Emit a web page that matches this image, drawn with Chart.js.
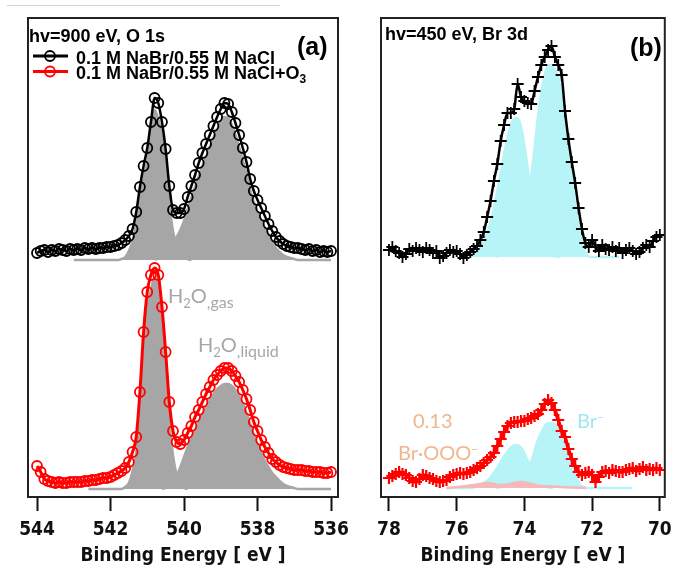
<!DOCTYPE html>
<html>
<head>
<meta charset="utf-8">
<title>XPS O 1s and Br 3d</title>
<script src="https://cdn.jsdelivr.net/npm/chart.js@4.4.1/dist/chart.umd.min.js"></script>
<style>
  body { margin: 0; background: #fff; }
  #wrap { position: relative; width: 673px; height: 566px; overflow: hidden; }
  canvas { position: absolute; top: 0; }
  #chartA { left: 0; }
  #chartB { left: 360px; }
  .lbl { position: absolute; white-space: nowrap; line-height: 1; }
  .hd { font: bold 18px 'Liberation Sans', Arial, sans-serif; color: #000; }
  .lg { font: bold 18px 'Liberation Sans', Arial, sans-serif; color: #000; }
  .pan { font: bold 25px 'Liberation Sans', Arial, sans-serif; color: #000; }
  .soft { font: 20px Lato, 'Open Sans', sans-serif; }
  .sub { font-size: 16px; position: relative; top: 5px; }
  .sup { font-size: 12px; position: relative; top: -7px; }
  #topline { position: absolute; left: 7px; top: 5px; width: 273px; height: 1px; background: #d4d4d4; }
</style>
</head>
<body>
<div id="wrap">
  <div id="topline"></div>
  <canvas id="chartA" width="358" height="566"></canvas>
  <canvas id="chartB" width="313" height="566"></canvas>

  <div class="lbl hd" style="left:29px; top:26px;">hv=900 eV, O 1s</div>
  <div class="lbl lg" style="left:76px; top:48px;">0.1 M NaBr/0.55 M NaCl</div>
  <div class="lbl lg" style="left:76px; top:63px;">0.1 M NaBr/0.55 M NaCl+O<span style="font-size:12px; position:relative; top:4px;">3</span></div>
  <div class="lbl pan" style="left:297px; top:32px;">(a)</div>
  <div class="lbl soft" style="left:168px; top:283px; color:#a6a6a6;">H<span class="sub" style="font-size:13px;">2</span>O<span class="sub">,gas</span></div>
  <div class="lbl soft" style="left:198px; top:332px; color:#a6a6a6;">H<span class="sub" style="font-size:13px;">2</span>O<span class="sub">,liquid</span></div>

  <div class="lbl hd" style="left:385px; top:24px;">hv=450 eV, Br 3d</div>
  <div class="lbl pan" style="left:630px; top:33px;">(b)</div>
  <div class="lbl soft" style="left:413px; top:408px; color:#f2b68e;">0.13</div>
  <div class="lbl soft" style="left:398px; top:440px; color:#f2b68e;">Br·OOO<span class="sup">−</span></div>
  <div class="lbl soft" style="left:577px; top:408px; color:#9fe8ee;">Br<span class="sup">−</span></div>
</div>

<script>
// Binding energy grids: spectra sampled every 0.1 eV
const STEP = 0.1;
const O1S_START = 544.0;
const BR3D_START = 78.0;

const ticksO1s = [544, 542, 540, 538, 536];
const ticksBr3d = [78, 76, 74, 72, 70];

// O 1s, 0.1 M NaBr / 0.55 M NaCl (544.0 -> 536.0 eV)
const o1sPure = [
  244, 246, 247, 245, 247, 246, 248, 247, 246, 248,
  247, 248, 247, 249, 248, 249, 248, 249, 249, 250,
  250, 251, 252, 254, 257, 261, 268, 285, 310, 331,
  349, 375, 399, 394, 375, 348, 311, 287, 284, 284,
  288, 300, 311, 322, 334, 344, 353, 362, 371, 380,
  388, 394, 393, 385, 374, 362, 349, 335, 318, 306,
  297, 289, 281, 273, 266, 260, 256, 253, 251, 250,
  249, 249, 248, 247, 248, 246, 247, 245, 246, 245,
  246
];

// O 1s, same solution + O3
const o1sOzone = [
  31, 25, 18, 16, 15, 14, 15, 14, 14, 15,
  15, 15, 15, 16, 16, 17, 17, 18, 19, 19,
  20, 22, 24, 26, 29, 35, 45, 60, 105, 165,
  205, 222, 229, 222, 190, 145, 95, 66, 55, 53,
  57, 64, 71, 80, 87, 95, 103, 110, 117, 122,
  126, 129, 129, 126, 121, 115, 107, 98, 87, 75,
  66, 57, 50, 44, 38, 35, 32, 30, 29, 28,
  27, 27, 27, 26, 26, 25, 25, 25, 24, 24,
  25
];

// fitted components [eV, intensity]
const gasPure = [[543.0,237],[541.8,237],[541.7,238],[541.6,240],[541.5,246],[541.4,256],[541.3,273],[541.2,297],[541.1,318],[541.0,336],[540.9,363],[540.8,387],[540.7,378],[540.6,360],[540.5,330],[540.4,293],[540.3,266],[540.2,252],[540.1,244],[540.0,240],[539.9,238],[539.8,237]];
const liquidPure = [[540.8,237],[540.6,241],[540.5,244],[540.4,248],[540.3,254],[540.2,260],[540.1,267],[540.0,276],[539.9,288],[539.8,299],[539.7,310],[539.6,321],[539.5,331],[539.4,340],[539.3,350],[539.2,359],[539.1,367],[539.0,375],[538.9,380],[538.8,379],[538.7,372],[538.6,362],[538.5,350],[538.4,337],[538.3,323],[538.2,307],[538.1,295],[538.0,285],[537.9,277],[537.8,269],[537.7,262],[537.6,255],[537.5,249],[537.4,245],[537.3,242],[537.2,240],[537.1,239],[537.0,238],[536.9,237],[536.0,237]];
const gasOzone = [[542.6,8],[541.7,8],[541.6,10],[541.5,14],[541.4,26],[541.3,44],[541.2,88],[541.1,148],[541.0,188],[540.9,207],[540.8,220],[540.7,207],[540.6,175],[540.5,128],[540.4,76],[540.3,42],[540.2,22],[540.1,13],[540.0,9],[539.9,8]];
const liquidOzone = [[540.6,8],[540.4,11],[540.3,15],[540.2,21],[540.1,30],[540.0,40],[539.9,50],[539.8,59],[539.7,67],[539.6,75],[539.5,83],[539.4,90],[539.3,97],[539.2,103],[539.1,108],[539.0,111],[538.9,113],[538.8,113],[538.7,111],[538.6,107],[538.5,101],[538.4,93],[538.3,84],[538.2,73],[538.1,62],[538.0,52],[537.9,44],[537.8,36],[537.7,30],[537.6,24],[537.5,20],[537.4,16],[537.3,13],[537.2,11],[537.1,10],[537.0,9],[536.9,8],[536.0,8]];

// Br 3d, 0.1 M NaBr / 0.55 M NaCl (78.0 -> 70.0 eV)
const br3dPure = [
  247, 250, 246, 244, 240, 243, 248, 246, 249, 247,
  245, 249, 247, 244, 246, 239, 241, 244, 247, 245,
  246, 243, 239, 242, 245, 248, 251, 257, 265, 280,
  296, 316, 333, 356, 372, 384, 384, 388, 413, 400,
  396, 394, 393, 406, 420, 432, 440, 447, 451, 440,
  432, 422, 386, 358, 335, 314, 289, 268, 254, 250,
  257, 250, 246, 252, 248, 247, 250, 246, 249, 244,
  247, 249, 246, 243, 245, 249, 252, 250, 256, 260,
  262
];

// Br 3d, same solution + O3
const br3dOzone = [
  19, 21, 23, 25, 23, 22, 19, 16, 15, 18,
  22, 21, 19, 18, 16, 15, 16, 17, 20, 22,
  23, 24, 23, 24, 25, 27, 29, 31, 34, 37,
  40, 44, 51, 58, 65, 71, 74, 75, 75, 76,
  76, 78, 79, 81, 83, 87, 93, 97, 94, 87,
  77, 66, 60, 48, 38, 31, 25, 22, 24, 25,
  22, 15, 20, 25, 26, 24, 27, 26, 25, 25,
  27, 28, 29, 26, 28, 30, 27, 28, 27, 29,
  27
];

// Br- doublet components and Br.OOO- component [eV, intensity]
const brMinusHighPure = [[75.6,240],[75.45,244],[75.25,252],[75.15,259],[75.05,269],[74.95,281],[74.85,297],[74.75,315],[74.65,334],[74.55,351],[74.45,366],[74.35,376],[74.25,379],[74.15,376],[74.05,362],[73.95,340],[73.85,316],[73.75,298],[73.65,272],[73.55,257],[73.45,248],[73.35,243],[73.15,241],[72.95,240]];
const brMinusLowPure = [[74.85,240],[74.65,242],[74.45,245],[74.25,251],[74.15,257],[74.05,266],[73.95,280],[73.85,308],[73.75,334],[73.65,365],[73.55,393],[73.45,414],[73.35,428],[73.25,432],[73.15,430],[73.05,424],[72.95,412],[72.85,390],[72.75,366],[72.65,340],[72.55,305],[72.45,280],[72.35,262],[72.25,248],[72.15,242],[72.05,240],[71.2,240]];
const brMinusHighOzone = [[76.3,9],[75.65,9],[75.45,10],[75.25,13],[75.15,15],[75.05,18],[74.95,22],[74.85,27],[74.75,32],[74.65,38],[74.55,43],[74.45,48],[74.35,51],[74.25,52],[74.15,51],[74.05,47],[73.95,40],[73.85,33],[73.75,26],[73.65,20],[73.55,15],[73.45,12],[73.35,10],[73.15,9]];
const brMinusLowOzone = [[74.85,9],[74.65,10],[74.45,11],[74.25,13],[74.15,15],[74.05,18],[73.95,23],[73.85,32],[73.75,40],[73.65,52],[73.55,61],[73.45,68],[73.35,73],[73.25,74],[73.15,74],[73.05,72],[72.95,64],[72.85,55],[72.75,46],[72.65,37],[72.55,28],[72.45,19],[72.35,12],[72.25,10],[72.15,9],[70.82,9]];
const ozonideOzone = [[76.3,9],[76.0,10],[75.7,11],[75.4,12.5],[75.1,14],[74.9,13],[74.7,12],[74.5,12.5],[74.3,14],[74.1,15],[73.9,14],[73.7,12],[73.5,11],[73.2,10.5],[72.9,10],[72.6,9.5],[72.18,9]];

const GRAY = '#a6a6a6';
const CYAN = '#b6f4f7';
const PINK = '#f6b8b8';

function spectrum(start, values) {
  return values.map((v, i) => ({ x: +(start - i * STEP).toFixed(2), y: v }));
}

function pairs(list) {
  return list.map(p => ({ x: p[0], y: p[1] }));
}

function component(points, base, color, order) {
  return {
    data: pairs(points),
    borderColor: color,
    backgroundColor: color,
    borderWidth: 2.5,
    pointRadius: 0,
    fill: { value: base },
    cubicInterpolationMode: 'monotone',
    order: order
  };
}

function measured(points, color, style, radius, lineWidth, markerWidth) {
  return {
    data: points,
    borderColor: color,
    backgroundColor: 'rgba(0,0,0,0)',
    borderWidth: lineWidth,
    pointStyle: style,
    pointRadius: radius,
    pointBorderColor: color,
    pointBorderWidth: markerWidth,
    pointBackgroundColor: 'rgba(0,0,0,0)',
    fill: false,
    cubicInterpolationMode: 'monotone',
    order: 0
  };
}

const axisFont = { family: "'Liberation Sans Narrow', 'DejaVu Sans Condensed', 'Arial Narrow', sans-serif", size: 19, weight: 'bold', lineHeight: 1 };

// draws the box round the plot area
const frame = {
  id: 'frame',
  afterDatasetsDraw(chart) {
    const a = chart.chartArea;
    const ctx = chart.ctx;
    ctx.save();
    ctx.strokeStyle = '#222';
    ctx.lineWidth = 2;
    ctx.strokeRect(a.left, a.top, a.right - a.left, a.bottom - a.top);
    ctx.restore();
  }
};

// legend line + circle symbols of panel (a)
const legendMarks = {
  id: 'legendMarks',
  afterDraw(chart) {
    const ctx = chart.ctx;
    [[56, '#000'], [71.5, '#f00']].forEach(([y, c]) => {
      ctx.save();
      ctx.strokeStyle = c;
      ctx.lineWidth = 3;
      ctx.beginPath();
      ctx.moveTo(33, y);
      ctx.lineTo(68, y);
      ctx.stroke();
      ctx.lineWidth = 1.8;
      ctx.beginPath();
      ctx.arc(50, y, 5, 0, Math.PI * 2);
      ctx.stroke();
      ctx.restore();
    });
  }
};

function makeOptions(min, max, ticks, padLeft, padRight) {
  return {
    responsive: false,
    animation: false,
    devicePixelRatio: 1,
    layout: { padding: { left: padLeft, top: 18, right: padRight, bottom: 0 } },
    plugins: { legend: { display: false }, tooltip: { enabled: false } },
    scales: {
      x: {
        type: 'linear',
        reverse: true,
        min: min,
        max: max,
        afterBuildTicks: scale => { scale.ticks = ticks.map(v => ({ value: v })); },
        afterFit: scale => {
          // fixed axis band; edge labels may overhang the frame
          scale.height = 69;
          scale.paddingLeft = 0;
          scale.paddingRight = 0;
        },
        grid: { display: true, drawOnChartArea: false, drawTicks: true, tickLength: 14, tickWidth: 2, tickColor: '#111' },
        border: { display: false },
        ticks: { color: '#111', font: axisFont, padding: 10, maxRotation: 0, autoSkip: false },
        title: { display: true, text: 'Binding Energy [ eV ]', color: '#111', font: axisFont, padding: { top: 0, bottom: 0 } }
      },
      y: { display: false, min: 0, max: 479 }
    }
  };
}

new Chart(document.getElementById('chartA'), {
  type: 'line',
  data: {
    datasets: [
      measured(spectrum(O1S_START, o1sPure), '#000', 'circle', 5, 2.5, 1.8),
      measured(spectrum(O1S_START, o1sOzone), '#f00', 'circle', 5, 3, 1.8),
      component(gasPure, 237, GRAY, 1),
      component(liquidPure, 237, GRAY, 2),
      component(gasOzone, 8, GRAY, 1),
      component(liquidOzone, 8, GRAY, 2)
    ]
  },
  options: makeOptions(535.81, 544.245, ticksO1s, 28, 20),
  plugins: [frame, legendMarks]
});

new Chart(document.getElementById('chartB'), {
  type: 'line',
  data: {
    datasets: [
      measured(spectrum(BR3D_START, br3dPure), '#000', 'cross', 6, 2.5, 1.8),
      measured(spectrum(BR3D_START, br3dOzone), '#f00', 'cross', 6, 3.5, 2.2),
      component(brMinusHighPure, 240, CYAN, 2),
      component(brMinusLowPure, 240, CYAN, 3),
      component(ozonideOzone, 9, PINK, 1),
      component(brMinusHighOzone, 9, CYAN, 2),
      component(brMinusLowOzone, 9, CYAN, 3)
    ]
  },
  options: makeOptions(69.853, 78.235, ticksBr3d, 21, 7),
  plugins: [frame]
});
</script>
</body>
</html>
